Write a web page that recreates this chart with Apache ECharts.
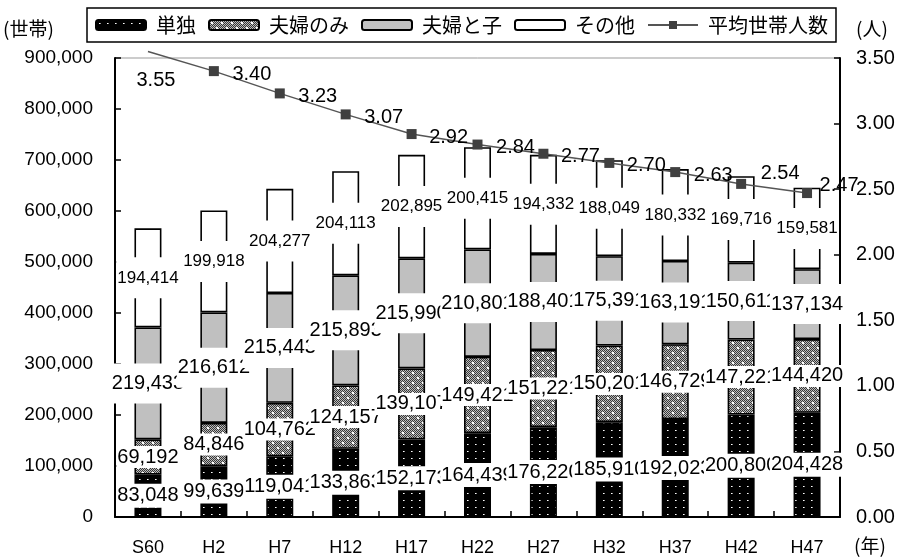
<!DOCTYPE html>
<html>
<head>
<meta charset="utf-8">
<script src="https://cdn.jsdelivr.net/npm/echarts@6/dist/echarts.min.js"></script>
<style>
  html, body { margin: 0; padding: 0; background: #fff; }
  #chart { width: 904px; height: 560px; }
</style>
</head>
<body>
<div id="chart"></div>
<script>
// 年次（昭和60年〜平成47年）
const categories = ['S60', 'H2', 'H7', 'H12', 'H17', 'H22', 'H27', 'H32', 'H37', 'H42', 'H47'];
// 家族類型別世帯数
const single = [83048, 99639, 119041, 133863, 152173, 164439, 176220, 185910, 192023, 200800, 204428];
const coupleOnly = [69192, 84846, 104762, 124157, 139107, 149421, 151221, 150201, 146729, 147221, 144420];
const coupleChild = [219433, 216612, 215443, 215893, 215990, 210801, 188401, 175391, 163191, 150611, 137134];
const others = [194414, 199918, 204277, 204113, 202895, 200415, 194332, 188049, 180332, 169716, 159581];
// 平均世帯人数
const avgSize = [3.55, 3.40, 3.23, 3.07, 2.92, 2.84, 2.77, 2.70, 2.63, 2.54, 2.47];
// 平均世帯人数ラベルのずらし量
const avgLabelShift = [[8, 29], [38, 3], [38, 3], [38, 3], [37, 3], [38, 3], [37, 3], [37, 3], [38, 3], [39, -10], [32, -8]];

const FONT = '"Liberation Sans", Arial, "Noto Sans CJK JP", sans-serif';
const JFONT = '"Noto Sans CJK JP", "Liberation Sans", sans-serif';

// 黒地に白い点
function dotPattern() {
  const c = document.createElement('canvas');
  c.width = 8; c.height = 7;
  const g = c.getContext('2d');
  g.fillStyle = '#000'; g.fillRect(0, 0, 8, 7);
  g.fillStyle = '#fff'; g.fillRect(3, 3, 1, 1);
  g.fillStyle = '#999'; g.fillRect(4, 3, 1, 1);
  return { image: c, repeat: 'repeat' };
}
// 灰色の網目に白い点
function meshPattern() {
  const c = document.createElement('canvas');
  c.width = 10; c.height = 10;
  const g = c.getContext('2d');
  for (let y = 0; y < 10; y++) {
    for (let x = 0; x < 10; x++) {
      g.fillStyle = ((x + y) % 2 === 0) ? '#383838' : '#bcbcbc';
      g.fillRect(x, y, 1, 1);
    }
  }
  g.fillStyle = '#fff';
  g.fillRect(2, 2, 2, 2);
  g.fillRect(7, 7, 2, 2);
  return { image: c, repeat: 'repeat' };
}

const fmt = v => Number(v).toLocaleString('en-US');

function barSeries(name, data, color, fontSize, pad) {
  return {
    name: name,
    type: 'bar',
    stack: 'households',
    data: data,
    barWidth: 27,
    itemStyle: { color: color, borderColor: '#000', borderWidth: 1.6 },
    label: {
      show: true,
      position: 'inside',
      formatter: p => fmt(p.value),
      color: '#000',
      fontFamily: FONT,
      fontSize: fontSize,
      backgroundColor: '#fff',
      padding: pad
    },
    emphasis: { disabled: true }
  };
}

const chart = echarts.init(document.getElementById('chart'), null, { renderer: 'canvas' });

chart.setOption({
  animation: false,
  backgroundColor: '#fff',
  textStyle: { fontFamily: FONT },
  grid: {
    left: 115, right: 64, top: 58, bottom: 43,
    show: true, borderColor: '#999', borderWidth: 1, backgroundColor: 'transparent'
  },
  legend: {
    left: 87, top: 8,
    padding: [7, 8],
    borderColor: '#000', borderWidth: 1.5,
    backgroundColor: '#fff',
    itemWidth: 50, itemHeight: 10, itemGap: 12,
    textStyle: { fontFamily: JFONT, fontSize: 20, color: '#000', padding: [0, 0, 0, 5] },
    data: ['単独', '夫婦のみ', '夫婦と子', 'その他', '平均世帯人数']
  },
  xAxis: {
    type: 'category',
    data: categories,
    axisLine: { lineStyle: { color: '#000', width: 2 } },
    axisTick: { show: true, inside: true, length: 6, alignWithLabel: false, lineStyle: { color: '#000', width: 1.5 } },
    axisLabel: { color: '#000', fontSize: 18, margin: 22, fontFamily: FONT }
  },
  yAxis: [
    {
      type: 'value', min: 0, max: 900000, interval: 100000,
      axisLine: { show: true, lineStyle: { color: '#000', width: 2 } },
      axisTick: { show: true, inside: true, length: 6, lineStyle: { color: '#000', width: 1.5 } },
      splitLine: { show: false },
      axisLabel: { color: '#000', fontSize: 19, margin: 22, fontFamily: FONT, formatter: v => fmt(v) }
    },
    {
      type: 'value', min: 0, max: 3.5, interval: 0.5,
      axisLine: { show: true, lineStyle: { color: '#000', width: 2 } },
      axisTick: { show: true, inside: true, length: 6, lineStyle: { color: '#000', width: 1.5 } },
      splitLine: { show: false },
      axisLabel: { color: '#000', fontSize: 20, margin: 16, fontFamily: FONT, formatter: v => v.toFixed(2) }
    }
  ],
  series: [
    barSeries('単独', single, dotPattern(), 20, [2, 1]),
    barSeries('夫婦のみ', coupleOnly, meshPattern(), 20, [1, 1]),
    barSeries('夫婦と子', coupleChild, '#c0c0c0', 20, [10, 1]),
    barSeries('その他', others, '#fff', 17, [12, 1]),
    {
      name: '平均世帯人数',
      type: 'line',
      yAxisIndex: 1,
      clip: false,
      z: 5,
      symbol: 'rect',
      symbolSize: 10,
      data: avgSize.map((v, i) => ({
        value: v,
        symbolSize: i === 0 ? 0 : 10,
        label: { offset: avgLabelShift[i] }
      })),
      lineStyle: { color: '#555', width: 1.5 },
      itemStyle: { color: '#404040' },
      label: {
        show: true,
        position: 'inside',
        formatter: p => Number(p.value).toFixed(2),
        color: '#000',
        fontSize: 20,
        fontFamily: FONT
      },
      emphasis: { disabled: true }
    }
  ],
  graphic: [
    { type: 'text', left: 3, top: 19, style: { text: '(世帯)', font: '19px ' + JFONT, fill: '#000' } },
    { type: 'text', left: 856, top: 19, style: { text: '(人)', font: '19px ' + JFONT, fill: '#000' } },
    { type: 'text', left: 854, top: 536, style: { text: '(年)', font: '19px ' + JFONT, fill: '#000' } }
  ]
});
</script>
</body>
</html>
